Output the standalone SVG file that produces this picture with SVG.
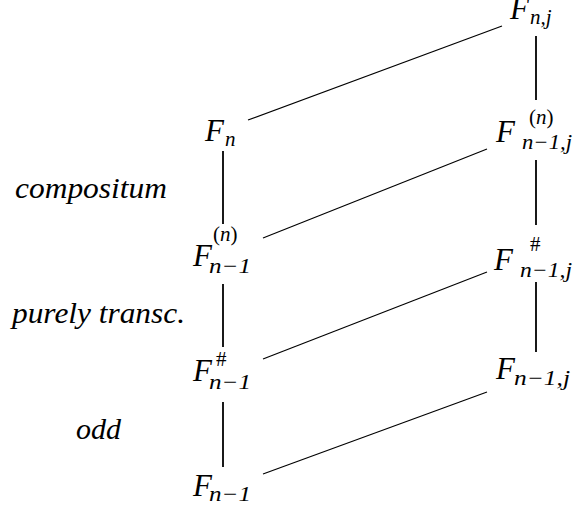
<svg xmlns="http://www.w3.org/2000/svg" width="575" height="508" viewBox="0 0 575 508" font-family="Liberation Serif, DejaVu Serif, serif">
<style>
.m{font-family:"Liberation Serif",serif;font-size:31px;font-style:italic}
.s{font-size:21px;font-style:italic}
.u{font-size:21px;font-style:normal}
.l{font-family:"Liberation Serif",serif;font-size:29px;font-style:italic}
.v{stroke:#000;stroke-width:1.8;fill:none}
.d{stroke:#000;stroke-width:1.2;fill:none}
</style>
<rect width="575" height="508" fill="#fff"/>
<g id="connectors">
<line class="v" x1="223" y1="151" x2="223" y2="224"/>
<line class="v" x1="223" y1="284" x2="223" y2="347"/>
<line class="v" x1="223" y1="402" x2="223" y2="467"/>
<line class="v" x1="536" y1="36" x2="536" y2="100"/>
<line class="v" x1="536" y1="160" x2="536" y2="225"/>
<line class="v" x1="536" y1="282" x2="536" y2="352"/>
<line class="d" x1="248" y1="120" x2="502" y2="26"/>
<line class="d" x1="263" y1="238" x2="487" y2="149"/>
<line class="d" x1="263" y1="359" x2="487" y2="272"/>
<line class="d" x1="263" y1="474" x2="487" y2="392"/>
</g>
<g id="n-Fn"><text class="m" x="205" y="141">F<tspan class="s" x="225" y="146">n</tspan></text></g>
<g id="n-Fn1n"><text class="m" x="193" y="266">F<tspan class="u" x="213" y="241">(</tspan><tspan class="s">n</tspan><tspan class="u">)</tspan><tspan class="s" x="209" y="273" textLength="42" lengthAdjust="spacingAndGlyphs">n−1</tspan></text></g>
<g id="n-Fn1h"><text class="m" x="193" y="381">F<tspan class="u" x="216" y="366">#</tspan><tspan class="s" x="209" y="389" textLength="42" lengthAdjust="spacingAndGlyphs">n−1</tspan></text></g>
<g id="n-Fn1"><text class="m" x="193" y="496">F<tspan class="s" x="209" y="501" textLength="42" lengthAdjust="spacingAndGlyphs">n−1</tspan></text></g>
<g id="n-Fnj"><text class="m" x="510" y="19">F<tspan class="s" x="530" y="24">n,j</tspan></text></g>
<g id="n-Fn1jn"><text class="m" x="496" y="142">F<tspan class="u" x="529" y="124">(</tspan><tspan class="s">n</tspan><tspan class="u">)</tspan><tspan class="s" x="522" y="149" textLength="50" lengthAdjust="spacingAndGlyphs">n−1,j</tspan></text></g>
<g id="n-Fn1jh"><text class="m" x="494" y="270">F<tspan class="u" x="530" y="251">#</tspan><tspan class="s" x="520" y="277" textLength="52" lengthAdjust="spacingAndGlyphs">n−1,j</tspan></text></g>
<g id="n-Fn1j"><text class="m" x="496" y="379">F<tspan class="s" x="514" y="385" textLength="56" lengthAdjust="spacingAndGlyphs">n−1,j</tspan></text></g>
<g id="labels">
<text class="l" x="15" y="198" textLength="152" lengthAdjust="spacingAndGlyphs">compositum</text>
<text class="l" x="12" y="323" textLength="173" lengthAdjust="spacingAndGlyphs">purely transc.</text>
<text class="l" x="76" y="439" textLength="45" lengthAdjust="spacingAndGlyphs">odd</text>
</g>
</svg>
